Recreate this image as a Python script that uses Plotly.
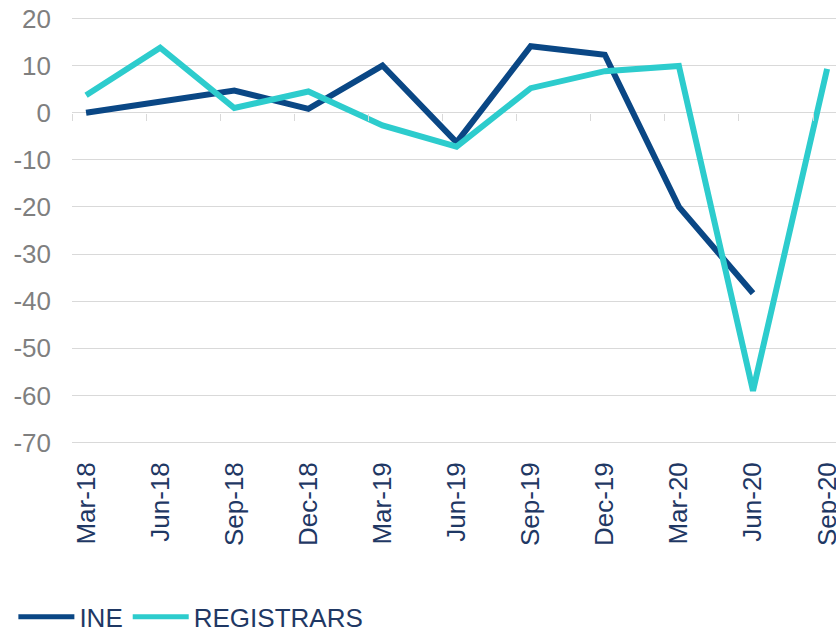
import plotly.graph_objects as go

# Quarterly growth rates (%)
quarters = ["Mar-18", "Jun-18", "Sep-18", "Dec-18", "Mar-19", "Jun-19",
            "Sep-19", "Dec-19", "Mar-20", "Jun-20", "Sep-20"]
ine = [0.0, 2.4, 4.7, 0.8, 10.0, -6.3, 14.1, 12.3, -20.0, -38.3, None]
registrars = [3.7, 13.8, 1.0, 4.5, -2.7, -7.2, 5.2, 8.8, 9.9, -59.0, 9.3]
y_ticks = [20, 10, 0, -10, -20, -30, -40, -50, -60, -70]

INE_COLOR = "#0a4785"
REG_COLOR = "#2dcccd"
GRID = "#d9d9d9"
FONT = "Liberation Sans, Arial, sans-serif"

x_pos = list(range(len(quarters)))
x_range = [-0.19, 10.12]
y_range = [-70.3, 20.3]

fig = go.Figure()
fig.add_trace(go.Scatter(x=x_pos, y=ine, name="INE", mode="lines",
                         line=dict(color=INE_COLOR, width=6)))
fig.add_trace(go.Scatter(x=x_pos, y=registrars, name="REGISTRARS", mode="lines",
                         line=dict(color=REG_COLOR, width=6)))

# position of the zero line in paper coords, for the category tick marks
zero_pos = (0 - y_range[0]) / (y_range[1] - y_range[0])

fig.update_layout(
    width=836, height=632,
    margin=dict(l=72, r=0, t=17, b=188, autoexpand=False),
    paper_bgcolor="white", plot_bgcolor="white",
    font=dict(family=FONT, size=26),
    showlegend=True,
    legend=dict(orientation="h", xref="container", yref="paper",
                x=0.016, y=-0.405, xanchor="left", yanchor="middle",
                font=dict(size=26, color="#1f3864"),
                itemwidth=56, tracegroupgap=0, itemsizing="constant",
                bgcolor="rgba(0,0,0,0)"),
    xaxis=dict(range=x_range, tickvals=x_pos, ticktext=quarters,
               tickangle=-90, showgrid=False, zeroline=False, showline=False,
               ticks="", tickfont=dict(color="#1f3864", size=26),
               ticklabelstandoff=12, ticklabeloverflow="allow",
               automargin=False),
    xaxis2=dict(range=x_range, overlaying="x", anchor="free", position=zero_pos,
                tickvals=[v - 0.19 for v in x_pos], showticklabels=False,
                ticks="outside", ticklen=7, tickcolor=GRID, tickwidth=1,
                showgrid=False, zeroline=False, showline=False,
                automargin=False),
    yaxis=dict(range=y_range, tickvals=y_ticks,
               ticktext=[str(v) for v in y_ticks],
               showgrid=True, gridcolor=GRID,
               gridwidth=1, zeroline=True, zerolinecolor=GRID, zerolinewidth=1,
               showline=False, ticks="", tickfont=dict(color="#7f7f7f", size=26),
               ticklabelstandoff=20, automargin=False),
)
# invisible trace to activate the tick-mark axis
fig.add_trace(go.Scatter(x=[None], y=[None], xaxis="x2", showlegend=False,
                         hoverinfo="skip"))

fig.write_html("out.html")
